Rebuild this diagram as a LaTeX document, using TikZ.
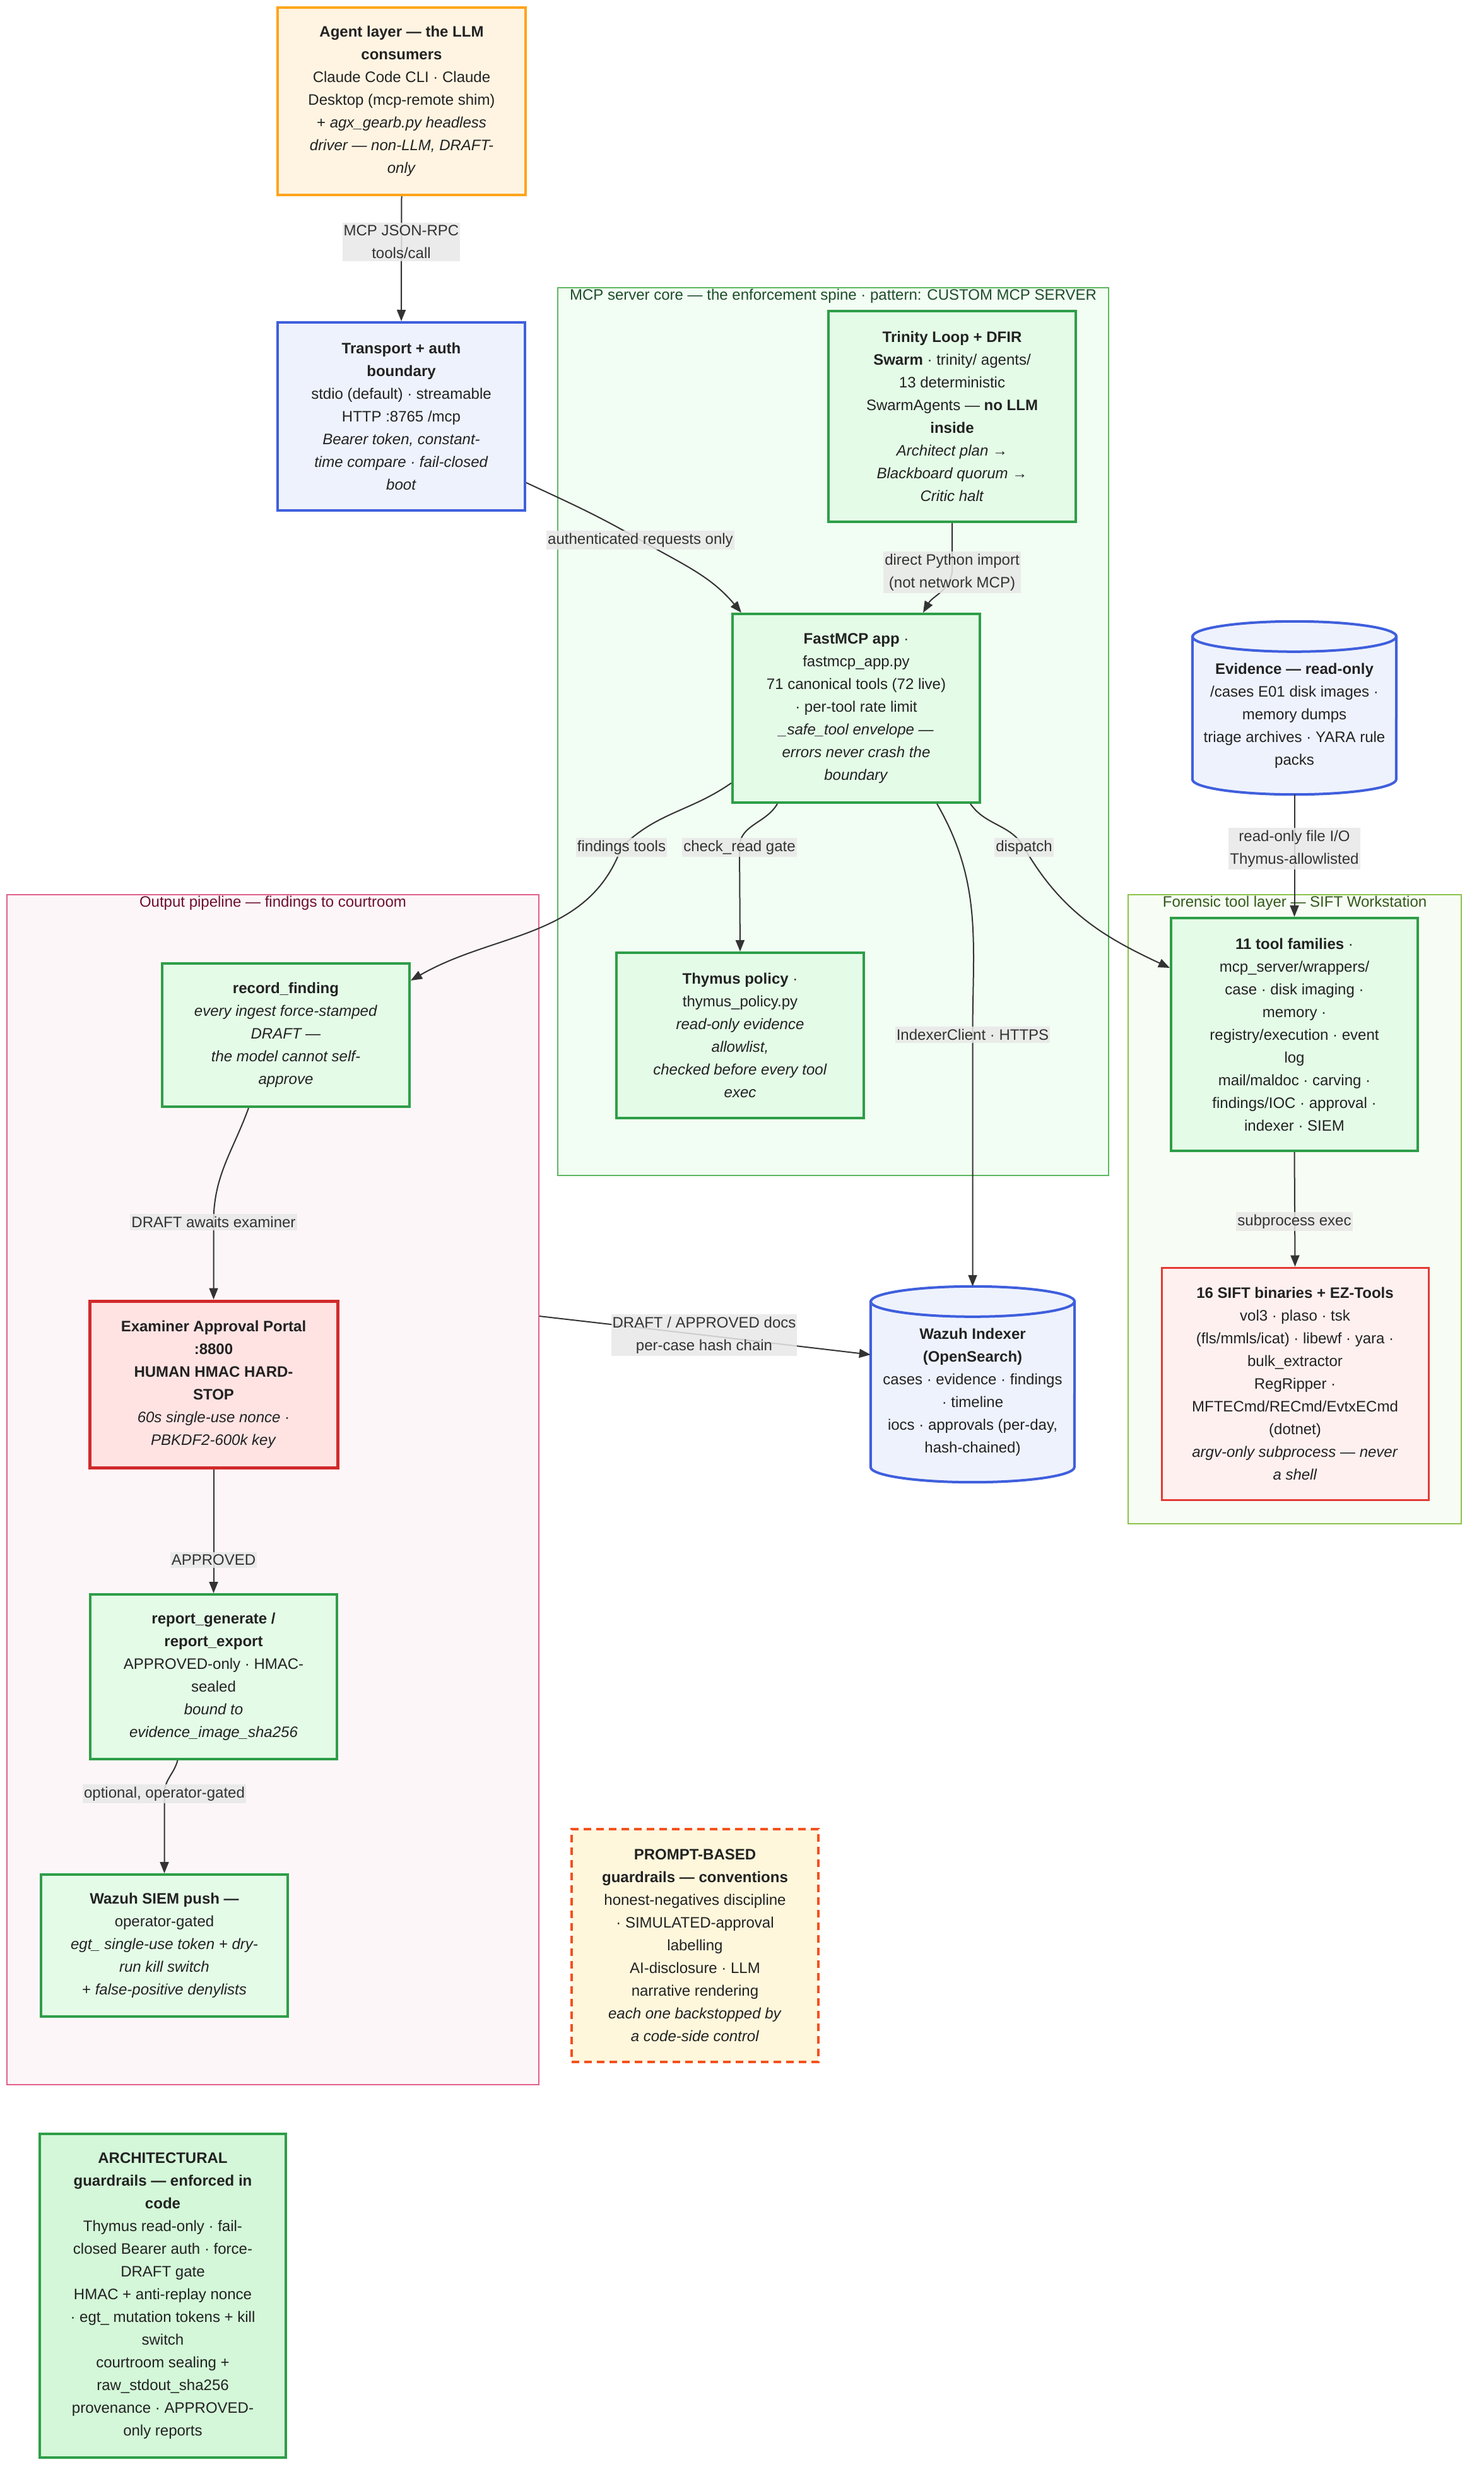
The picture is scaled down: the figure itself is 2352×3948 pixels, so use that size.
\documentclass[tikz,border=0pt]{standalone}
\usepackage{fontspec}
\setmainfont{Liberation Sans}
\usepackage{xcolor}
\usepackage{tikz}
\usetikzlibrary{arrows.meta, positioning, calc, backgrounds}
\definecolor{agentcolor}{HTML}{FFA41B}
\definecolor{agentfill}{HTML}{FFF4E2}
\definecolor{bluecolor}{HTML}{3F5FDD}
\definecolor{bluefill}{HTML}{EEF2FD}
\definecolor{greencolor}{HTML}{2E9E48}
\definecolor{greenfill}{HTML}{E4FCE7}
\definecolor{archfill}{HTML}{D3F7D8}
\definecolor{corecolor}{HTML}{5BB85F}
\definecolor{corefill}{HTML}{F2FDF3}
\definecolor{coretitle}{HTML}{1E4D2B}
\definecolor{siftcolor}{HTML}{8BC34A}
\definecolor{siftfill}{HTML}{F7FDF4}
\definecolor{sifttitle}{HTML}{33591A}
\definecolor{outcolor}{HTML}{E0608A}
\definecolor{outfill}{HTML}{FDF6F8}
\definecolor{outtitle}{HTML}{6D1030}
\definecolor{examcolor}{HTML}{D12A2A}
\definecolor{examfill}{HTML}{FFE3E3}
\definecolor{bincolor}{HTML}{E53935}
\definecolor{binfill}{HTML}{FFF0F0}
\definecolor{promptcolor}{HTML}{F4511E}
\definecolor{promptfill}{HTML}{FEF7DC}
\definecolor{labelgray}{HTML}{E8E8E8}
\definecolor{inktext}{HTML}{222222}
\definecolor{edgecolor}{HTML}{333333}

\begin{document}
\begin{tikzpicture}[x=1pt, y=-1pt, font=\fontsize{24}{36}\selectfont,
    box/.style={rectangle, draw=greencolor, fill=greenfill, line width=4pt, inner sep=0pt, align=center, text=inktext},
    cluster/.style={rectangle, line width=2pt, inner sep=0pt},
    ctitle/.style={anchor=north, inner sep=0pt},
    elabel/.style={fill=labelgray, fill opacity=0.85, text opacity=1, text=edgecolor, inner xsep=2pt, inner ysep=4pt, align=center},
    arrow/.style={-{Stealth[length=18pt, width=14pt, inset=0pt]}, line width=2pt, draw=edgecolor},
    dbline/.style={draw=bluecolor, fill=bluefill, line width=4pt}
]
\useasboundingbox (0,0) rectangle (2352,3948);

% Subgraphs
\node[cluster, draw=corecolor, fill=corefill, minimum width=873pt, minimum height=1407pt] (mcpcore) at (1320.5,1159.5) {};
\node[ctitle, text=coretitle] (coretxt) at ($(mcpcore.north)+(0,3)$) {MCP server core — the enforcement spine · pattern: CUSTOM MCP SERVER};
\node[cluster, draw=siftcolor, fill=siftfill, minimum width=528pt, minimum height=997pt] (forensic) at (2052,1916.5) {};
\node[ctitle, text=sifttitle] (forensictxt) at ($(forensic.north)+(0,3)$) {Forensic tool layer — SIFT Workstation};
\node[cluster, draw=outcolor, fill=outfill, minimum width=843pt, minimum height=1886pt] (outp) at (432.5,2361) {};
\node[ctitle, text=outtitle] (outtxt) at ($(outp.north)+(0,3)$) {Output pipeline — findings to courtroom};

% Agent + transport (top left)
\node[box, draw=agentcolor, fill=agentfill, minimum width=393pt, minimum height=297pt] (agent) at (636.5,160.5)
  {\textbf{Agent layer — the LLM}\\\textbf{consumers}\\Claude Code CLI · Claude\\Desktop (mcp-remote shim)\\+ \textit{agx\_gearb.py headless}\\\textit{driver — non-LLM, DRAFT-}\\\textit{only}};
\node[box, draw=bluecolor, fill=bluefill, minimum width=392pt, minimum height=298pt] (trans) at (636,660)
  {\textbf{Transport + auth}\\\textbf{boundary}\\stdio (default) · streamable\\HTTP :8765 /mcp\\\textit{Bearer token, constant-}\\\textit{time compare · fail-closed}\\\textit{boot}};

% MCP server core
\node[box, minimum width=392pt, minimum height=334pt] (trin) at (1509,660)
  {\textbf{Trinity Loop + DFIR}\\\textbf{Swarm} · trinity/ agents/\\13 deterministic\\SwarmAgents — \textbf{no LLM}\\\textbf{inside}\\\textit{Architect plan →}\\\textit{Blackboard quorum →}\\\textit{Critic halt}};
\node[box, minimum width=392pt, minimum height=299pt] (fast) at (1357,1122.5)
  {\textbf{FastMCP app} ·\\fastmcp\_app.py\\71 canonical tools (72 live)\\· per-tool rate limit\\\textit{\_safe\_tool envelope —}\\\textit{errors never crash the}\\\textit{boundary}};
\node[box, minimum width=392pt, minimum height=262pt] (thy) at (1173,1641)
  {\textbf{Thymus policy} ·\\thymus\_policy.py\\\textit{read-only evidence}\\\textit{allowlist,}\\\textit{checked before every tool}\\\textit{exec}};

% Evidence store
\node[inner sep=0pt, align=center, text=inktext, minimum width=323pt, minimum height=250pt] (evid) at (2051.5,1134)
  {\textbf{Evidence — read-only}\\/cases E01 disk images ·\\memory dumps\\triage archives · YARA rule\\packs};

% Forensic tool layer
\node[box, minimum width=391pt, minimum height=369pt] (tools) at (2051.5,1639.5)
  {\textbf{11 tool families} ·\\mcp\_server/wrappers/\\case · disk imaging ·\\memory ·\\registry/execution · event\\log\\mail/maldoc · carving ·\\findings/IOC · approval ·\\indexer · SIEM};
\node[box, draw=bincolor, fill=binfill, line width=3pt, minimum width=423pt, minimum height=368pt] (sift) at (2052.5,2193)
  {\textbf{16 SIFT binaries + EZ-Tools}\\vol3 · plaso · tsk\\(fls/mmls/icat) · libewf · yara ·\\bulk\_extractor\\RegRipper ·\\MFTECmd/RECmd/EvtxECmd\\(dotnet)\\\textit{argv-only subprocess — never}\\\textit{a shell}};

% Output pipeline
\node[box, minimum width=392pt, minimum height=227pt] (rec) at (453,1640.5)
  {\textbf{record\_finding}\\\textit{every ingest force-stamped}\\\textit{DRAFT —}\\\textit{the model cannot self-}\\\textit{approve}};
\node[box, draw=examcolor, fill=examfill, line width=5pt, minimum width=393pt, minimum height=264pt] (exam) at (338.5,2194)
  {\textbf{Examiner Approval Portal}\\\textbf{:8800}\\\textbf{HUMAN HMAC HARD-}\\\textbf{STOP}\\\textit{60s single-use nonce ·}\\\textit{PBKDF2-600k key}};
\node[box, minimum width=391pt, minimum height=261pt] (rep) at (338.5,2657.5)
  {\textbf{report\_generate /}\\\textbf{report\_export}\\APPROVED-only · HMAC-\\sealed\\\textit{bound to}\\\textit{evidence\_image\_sha256}};
\node[box, minimum width=391pt, minimum height=225pt] (siem) at (260.5,3083.5)
  {\textbf{Wazuh SIEM push —}\\operator-gated\\\textit{egt\_ single-use token + dry-}\\\textit{run kill switch}\\+ \textit{false-positive denylists}};

% Indexer store
\node[inner sep=0pt, align=center, text=inktext, minimum width=323pt, minimum height=286pt] (wazuh) at (1541.5,2206)
  {\textbf{Wazuh Indexer}\\\textbf{(OpenSearch)}\\cases · evidence · findings\\· timeline\\iocs · approvals (per-day,\\hash-chained)};

% Guardrail notes
\node[box, draw=promptcolor, fill=promptfill, dashed, dash pattern=on 12pt off 8pt, minimum width=391pt, minimum height=369pt] (prompt) at (1101.5,3083.5)
  {\textbf{PROMPT-BASED}\\\textbf{guardrails — conventions}\\honest-negatives discipline\\· SIMULATED-approval\\labelling\\AI-disclosure · LLM\\narrative rendering\\\textit{each one backstopped by}\\\textit{a code-side control}};
\node[box, fill=archfill, minimum width=390pt, minimum height=513pt] (arch) at (258,3638.5)
  {\textbf{ARCHITECTURAL}\\\textbf{guardrails — enforced in}\\\textbf{code}\\Thymus read-only · fail-\\closed Bearer auth · force-\\DRAFT gate\\HMAC + anti-replay nonce\\· egt\_ mutation tokens + kill\\switch\\courtroom sealing +\\raw\_stdout\_sha256\\provenance · APPROVED-\\only reports};

% Cylinder outlines
\begin{scope}[on background layer]
\foreach \db in {evid, wazuh} {
  \draw[dbline] (\db.north west) -- ($(\db.south west)+(0,-24)$)
    arc[start angle=180, end angle=360, x radius=161.5pt, y radius=24pt]
    -- (\db.north east) arc[start angle=0, end angle=180, x radius=161.5pt, y radius=24pt] -- cycle;
  \draw[dbline, fill=none] (\db.north west) arc[start angle=180, end angle=360, x radius=161.5pt, y radius=24pt];
}
\end{scope}

% Label spots
\coordinate (lmcp) at (636,383);
\coordinate (lauth) at (1015,856);
\coordinate (ldir) at (1509,907);
\coordinate (lfind) at (985,1343);
\coordinate (lchk) at (1172,1343);
\coordinate (ldisp) at (1623,1343);
\coordinate (lidx) at (1541.5,1640);
\coordinate (lread) at (2051.5,1345);
\coordinate (lsub) at (2051.5,1936);
\coordinate (ldraft) at (338.5,1937);
\coordinate (lappr) at (338.5,2472);
\coordinate (lopt) at (260.5,2843);
\coordinate (ldocs) at (1116,2116);

% Connectors
\draw[arrow] (agent.south) -- (trans.north);
\draw[arrow] ($(trans.south east)+(0,-46)$) to[out=-25, in=150] (lauth) to[out=-30, in=130] ($(fast.north west)+(16,0)$);
\draw[arrow] (trin.south) -- (ldir) to[out=-100, in=60] ($(fast.north)+(106,0)$);
\draw[arrow] ($(fast.south west)+(0,-33)$) to[out=215, in=45] (lfind) to[out=-110, in=30] ($(rec.north east)+(0,29)$);
\draw[arrow] ($(fast.south west)+(73,0)$) to[out=-120, in=90] (lchk) -- (thy.north);
\draw[arrow] ($(fast.south east)+(-17,0)$) to[out=-55, in=120] (ldisp) to[out=-60, in=155] ($(tools.north west)+(0,81)$);
\draw[arrow] ($(fast.south east)+(-70,0)$) to[out=-60, in=90] (lidx) -- ($(wazuh.north)+(0,-24)$);
\draw[arrow] (evid.south) -- (tools.north);
\draw[arrow] (tools.south) -- (sift.north);
\draw[arrow] ($(rec.south)+(-59,0)$) to[out=-110, in=90] (ldraft) -- (exam.north);
\draw[arrow] (exam.south) -- (rep.north);
\draw[arrow] ($(rep.south)+(-57,0)$) to[out=-105, in=90] (lopt) -- (siem.north);
\draw[arrow] ($(outp.north east)+(0,669)$) -- (ldocs) -- ($(wazuh.west)+(0,-59)$);

% Edge labels
\node[elabel] (mcplbl) at (lmcp) {MCP JSON-RPC\\tools/call};
\node[elabel] (authlbl) at (lauth) {authenticated requests only};
\node[elabel] (dirlbl) at (ldir) {direct Python import\\(not network MCP)};
\node[elabel] (findlbl) at (lfind) {findings tools};
\node[elabel] (chklbl) at (lchk) {check\_read gate};
\node[elabel] (displbl) at (ldisp) {dispatch};
\node[elabel] (idxlbl) at (lidx) {IndexerClient · HTTPS};
\node[elabel] (readlbl) at (lread) {read-only file I/O\\Thymus-allowlisted};
\node[elabel] (sublbl) at (lsub) {subprocess exec};
\node[elabel] (draftlbl) at (ldraft) {DRAFT awaits examiner};
\node[elabel] (apprlbl) at (lappr) {APPROVED};
\node[elabel] (optlbl) at (lopt) {optional, operator-gated};
\node[elabel] (docslbl) at (ldocs) {DRAFT / APPROVED docs\\per-case hash chain};

\end{tikzpicture}
\end{document}
